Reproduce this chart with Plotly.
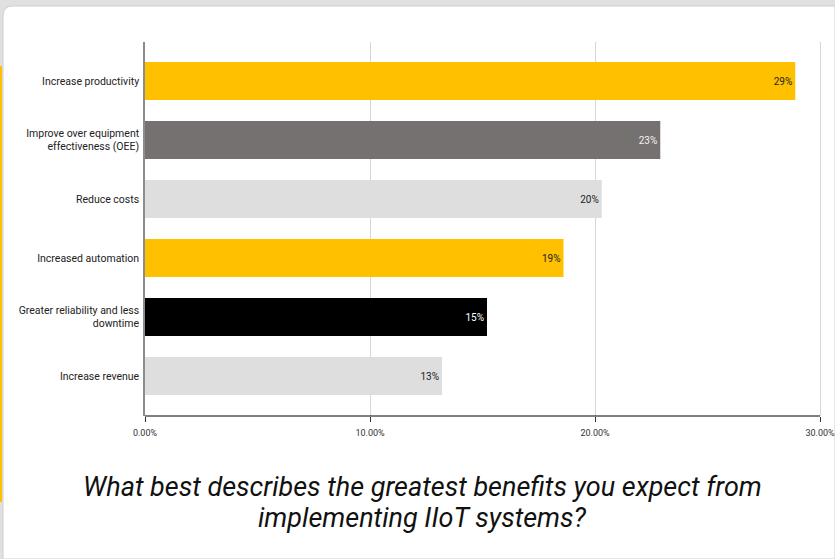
import plotly.graph_objects as go

categories = [
    "Increase productivity",
    "Improve over equipment<br>effectiveness (OEE)",
    "Reduce costs",
    "Increased automation",
    "Greater reliability and less<br>downtime",
    "Increase revenue",
]
values = [0.289, 0.229, 0.203, 0.186, 0.152, 0.132]
value_labels = ["29%", "23%", "20%", "19%", "15%", "13%"]
bar_colors = ["#ffc000", "#757171", "#dedede", "#ffc000", "#000000", "#dedede"]
label_colors = ["#222222", "#f2f2f2", "#222222", "#222222", "#ffffff", "#222222"]
x_ticks = [0, 0.1, 0.2, 0.3]
title_lines = [
    "What best describes the greatest benefits you expect from",
    "implementing IIoT systems?",
]

W, H = 835, 559
x_max = 0.3006
x0_px, x30_px = 145, 820
x_end_px = x0_px + (x30_px - x0_px) * x_max / 0.30

fig = go.Figure()
fig.add_trace(go.Bar(
    x=values, y=categories, orientation="h",
    marker=dict(color=bar_colors, line=dict(width=0)),
    text=value_labels, textposition="inside", insidetextanchor="end",
    textfont=dict(family="Roboto", size=10, color=label_colors),
    textangle=0, cliponaxis=False, showlegend=False, hoverinfo="skip",
))

def px_x(p):
    return p / W

def px_y(p):
    return 1 - p / H

shapes = [
    dict(type="path", xref="paper", yref="paper", layer="below",
         path=f"M {px_x(3)} {px_y(559)} L {px_x(3)} {px_y(16)} Q {px_x(3)} {px_y(6)} {px_x(13)} {px_y(6)} L 1 {px_y(6)} L 1 {px_y(559)} Z",
         fillcolor="white", line=dict(color="#cfcfcf", width=1)),
    dict(type="rect", xref="paper", yref="paper", layer="below",
         x0=0, x1=px_x(2), y0=px_y(502), y1=px_y(66),
         fillcolor="#ffc000", line=dict(width=0)),
]

annotations = []
for line, ypx in zip(title_lines, [487, 518]):
    annotations.append(dict(
        text=line, xref="paper", yref="paper",
        x=422 / W, y=px_y(ypx), xanchor="center", yanchor="middle",
        showarrow=False, align="center",
        font=dict(family="Roboto", size=27, color="#111111", style="italic"),
    ))

fig.update_layout(
    width=W, height=H,
    margin=dict(l=0, r=0, t=0, b=0),
    paper_bgcolor="#e1e0de",
    plot_bgcolor="rgba(0,0,0,0)",
    bargap=0.356,
    shapes=shapes,
    font=dict(family="Roboto", color="#222222"),
    xaxis=dict(
        domain=[x0_px / W, x_end_px / W],
        range=[0, x_max], tickvals=x_ticks, tickformat=".2%",
        showgrid=True, gridcolor="#d6d6d6", gridwidth=1,
        showline=False,
        ticks="outside", ticklen=5, tickcolor="#333333", tickwidth=1,
        ticklabelstandoff=3, ticklabeloverflow="allow",
        tickfont=dict(family="Roboto", size=9, color="#333333"),
        zeroline=False, automargin=False,
    ),
    yaxis=dict(
        domain=[1 - 416 / H, 1 - 42 / H],
        range=[5.678, -0.661],
        showline=True, linecolor="#8c8c8c", linewidth=1.5,
        showgrid=False, ticks="", ticklabelstandoff=2,
        tickfont=dict(family="Roboto", size=10.5, color="#222222"),
        automargin=False,
    ),
    annotations=annotations,
)

# bottom axis baseline from 0% to 30%
fig.add_shape(type="line", xref="x", yref="paper",
              x0=0, x1=0.30, y0=px_y(416), y1=px_y(416),
              line=dict(color="#000000", width=1))

fig.write_html("out.html")
